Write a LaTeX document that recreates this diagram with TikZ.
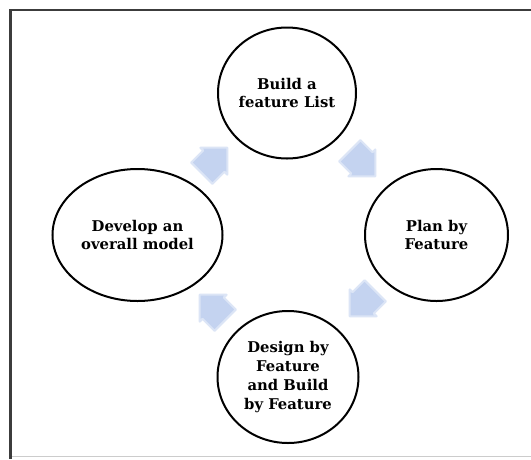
\documentclass[tikz,border=0pt]{standalone}
\usepackage{fontspec}
\setmainfont{DejaVu Serif}
\usetikzlibrary{shapes.geometric}
\definecolor{arrowblue}{RGB}{196,211,240}
\definecolor{framegray}{RGB}{60,60,60}
\tikzset{
  phase/.style={ellipse, draw=black, line width=2pt, inner sep=0pt,
    align=center, font=\fontsize{14.8}{18.8}\selectfont\bfseries},
  cyclearrow/.pic={
    \filldraw[fill=arrowblue, draw=arrowblue!60!white, line width=2pt, line join=round]
      (23,0) -- (4,19) -- (4,15) -- (-13,15) -- (-13,-15) -- (4,-15) -- (4,-19) -- cycle;
  }
}
\begin{document}
\begin{tikzpicture}[x=1pt,y=-1pt]
\useasboundingbox[fill=white] (0,0) rectangle (531,459);
% frame
\draw[framegray, line width=2pt] (9,10) -- (531,10);
\draw[framegray, line width=3pt] (10.5,9) -- (10.5,459);
\draw[black!20, line width=1pt] (12,456.5) -- (531,456.5);
% phases
\node[phase, minimum width=138pt, minimum height=131pt] (build) at (287,93) {Build a\\feature List};
\node[phase, minimum width=170pt, minimum height=132pt] (develop) at (137.5,235) {Develop an\\overall model};
\node[phase, minimum width=143pt, minimum height=132pt] (plan) at (436.5,235) {Plan by\\Feature};
\node[phase, minimum width=141pt, minimum height=132pt] (design) at (288,377) {Design by\\Feature\\and Build\\by Feature};
% cycle arrows
\pic[rotate=45] at (211,164) {cyclearrow};
\pic[rotate=-45] at (359,160) {cyclearrow};
\pic[rotate=-135] at (366,300) {cyclearrow};
\pic[rotate=135] at (216,311) {cyclearrow};
\end{tikzpicture}
\end{document}
